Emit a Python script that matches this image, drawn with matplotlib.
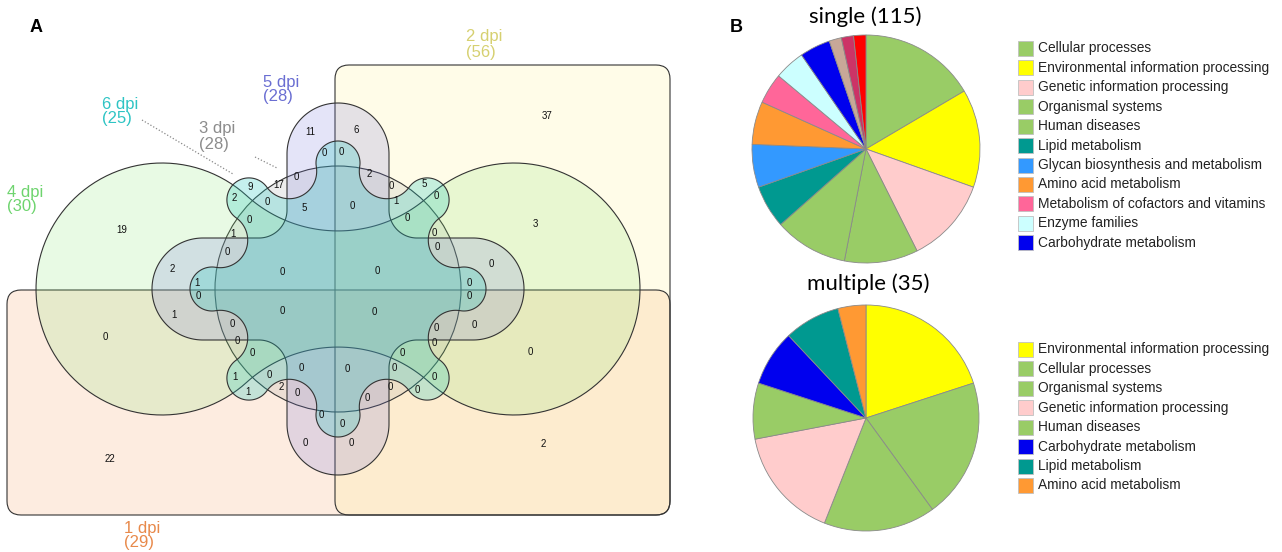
import numpy as np
import matplotlib.pyplot as plt
from matplotlib.patches import Polygon, FancyBboxPatch, Circle, Rectangle

# Venn diagram of proteins detected per day post infection
set_names = ['1 dpi', '2 dpi', '3 dpi', '4 dpi', '5 dpi', '6 dpi']
set_sizes = [29, 56, 28, 30, 28, 25]
set_colors = ['#F5A064', '#FFF08C', '#A8A8A8', '#8CE678', '#7878DC', '#20C8C0']
set_alpha = [0.2, 0.2, 0.2, 0.2, 0.2, 0.26]
label_colors = ['#E8894A', '#D6D070', '#8C8C8C', '#6ED46E', '#6A6ED2', '#2EC4C4']

region_counts = [37, 19, 3, 0, 0, 22, 2, 11, 6, 0, 0, 0, 17, 9, 2, 0, 5, 2, 0, 5,
                 0, 1, 0, 0, 0, 1, 0, 0, 0, 2, 1, 0, 1, 0, 0, 0, 0, 0, 0, 0,
                 0, 0, 0, 0, 0, 0, 0, 1, 0, 0, 0, 0, 0, 1, 2, 0, 0, 0, 0, 0,
                 0, 0, 0]
region_xy = [(547, 116), (122, 230), (535, 224), (105, 337), (530, 352), (110, 459),
             (543, 444), (310, 132), (356, 130), (324, 153), (341, 152), (296, 177),
             (279, 185), (250, 187), (234, 198), (267, 202), (304, 208), (369, 174),
             (391, 186), (424, 184), (436, 196), (396, 201), (352, 206), (407, 218),
             (249, 220), (233, 234), (227, 252), (434, 233), (437, 247), (172, 269),
             (197, 283), (198, 296), (174, 315), (282, 272), (377, 271), (282, 311),
             (374, 312), (491, 264), (469, 283), (469, 296), (474, 325), (232, 324),
             (237, 341), (252, 353), (436, 328), (434, 343), (402, 353), (235, 377),
             (269, 375), (301, 368), (347, 369), (394, 368), (434, 377), (248, 392),
             (281, 387), (297, 393), (390, 387), (417, 390), (367, 398), (321, 415),
             (342, 424), (305, 443), (351, 443)]
set_label_xy = [(124, 528), (466, 37), (199, 129), (7, 192), (263, 82), (102, 104)]

# KEGG categories
single_values = [19, 16, 14, 12, 12, 7, 7, 7, 5, 5, 5, 2, 2, 2]
single_colors = ['#99CC66', '#FFFF00', '#FFCCCC', '#99CC66', '#99CC66', '#009990',
                 '#3399FF', '#FF9933', '#FF6699', '#CCFFFF', '#0000EE',
                 '#C8A898', '#CC3366', '#FF0000']
single_names = ['Cellular processes', 'Environmental information processing',
                'Genetic information processing', 'Organismal systems',
                'Human diseases', 'Lipid metabolism',
                'Glycan biosynthesis and metabolism', 'Amino acid metabolism',
                'Metabolism of cofactors and vitamins', 'Enzyme families',
                'Carbohydrate metabolism']

multi_values = [5, 5, 4, 4, 2, 2, 2, 1]
multi_colors = ['#FFFF00', '#99CC66', '#99CC66', '#FFCCCC', '#99CC66', '#0000EE',
                '#009990', '#FF9933']
multi_names = ['Environmental information processing', 'Cellular processes',
               'Organismal systems', 'Genetic information processing',
               'Human diseases', 'Carbohydrate metabolism', 'Lipid metabolism',
               'Amino acid metabolism']

plt.rcParams['font.family'] = ['Liberation Sans', 'DejaVu Sans']

fig = plt.figure(figsize=(12.82, 5.52), dpi=100)
ax = fig.add_axes([0, 0, 1, 1])

cx, cy = 338, 289
EDGE = dict(edgecolor='#333333', linewidth=0.8)


def arc(x0, y0, r, a0, a1, n=90):
    t = np.radians(np.linspace(a0, a1, n))
    return np.column_stack([x0 + r * np.cos(t), y0 + r * np.sin(t)])


def ang(v):
    return np.degrees(np.arctan2(v[1], v[0]))


def dumbbell(D, R1, R2):
    # two lobes joined by concave waists, tangent arcs
    H = np.sqrt((R1 + R2) ** 2 - D ** 2)
    a = np.degrees(np.arctan2(H, D))
    return np.vstack([
        arc(cx - D, cy, R1, -a, a - 360),
        arc(cx, cy + H, R2, -180 + a, -a),
        arc(cx + D, cy, R1, 180 - a, -180 + a),
        arc(cx, cy - H, R2, a, 180 - a),
    ])


def cross(w, tip, f):
    # four rounded arms with filleted inner corners
    c = np.array([cx, cy], float)
    dirs = [np.array(v, float) for v in [(1, 0), (0, 1), (-1, 0), (0, -1)]]
    out = []
    for k, d in enumerate(dirs):
        p, n = dirs[k - 1], dirs[(k + 1) % 4]
        ad = ang(d)
        out.append(np.array([c + (w + f) * d + w * p, c + (tip - w) * d + w * p]))
        out.append(arc(*(c + (tip - w) * d), w, ad - 90, ad + 90))
        out.append(np.array([c + (tip - w) * d + w * n, c + (w + f) * d + w * n]))
        out.append(arc(*(c + (w + f) * d + (w + f) * n), f, ad + 270, ad + 180))
    return np.vstack(out)


def flower(rl, rho, r_in, nlobe=8):
    # round lobes joined by round dips
    c = np.array([cx, cy], float)
    step = 360 / nlobe
    al = np.radians(step / 2)
    s = (rl ** 2 + r_in ** 2 - 2 * rl * r_in * np.cos(al) - rho ** 2) / \
        (2 * (rho - r_in + rl * np.cos(al)))
    rd = r_in + s

    def pol(r, a):
        return c + r * np.array([np.cos(np.radians(a)), np.sin(np.radians(a))])

    out = []
    for k in range(nlobe):
        th = k * step - 90
        phi = th + step / 2
        L, L2 = pol(rl, th), pol(rl, th + step)
        Dp, Dn = pol(rd, th - step / 2), pol(rd, phi)
        a0 = th - ((th - ang(Dp - L)) % 360)
        a1 = th + ((ang(Dn - L) - th) % 360)
        b0 = phi - ((phi - ang(L - Dn)) % 360)
        b1 = phi - ((phi - ang(L2 - Dn)) % 360)
        out.append(arc(*L, rho, a0, a1))
        out.append(arc(*Dn, s, b0, b1))
    return np.vstack(out)


# sets 1 and 2: rounded halves
halves = [((7, 290), 663, 225), ((335, 65), 335, 450)]
for (xy, w, h), col, al in zip(halves, set_colors[:2], set_alpha[:2]):
    ax.add_patch(FancyBboxPatch(xy, w, h, boxstyle='round,pad=0,rounding_size=14',
                                facecolor=col, alpha=al, edgecolor='none'))
for xy, w, h in halves:
    ax.add_patch(FancyBboxPatch(xy, w, h, boxstyle='round,pad=0,rounding_size=14',
                                facecolor='none', **EDGE))

# set 3: circle
ax.add_patch(Circle((cx, cy), 123, facecolor=set_colors[2], alpha=set_alpha[2],
                    edgecolor='none'))
ax.add_patch(Circle((cx, cy), 123, facecolor='none', **EDGE))

# sets 4-6
shapes = [dumbbell(176, 126, 136), cross(51, 186, 28), flower(126, 22, 100)]
for pts, col, al in zip(shapes, set_colors[3:], set_alpha[3:]):
    ax.add_patch(Polygon(pts, closed=True, facecolor=col, alpha=al, edgecolor='none'))
    ax.add_patch(Polygon(pts, closed=True, facecolor='none', **EDGE))

for n, (x, y) in zip(region_counts, region_xy):
    ax.text(x, y, str(n), ha='center', va='center', fontsize=7, color='#111111')

for name, size, (x, y), col in zip(set_names, set_sizes, set_label_xy, label_colors):
    ax.text(x, y, name, ha='left', va='center', fontsize=12, color=col)
    ax.text(x, y + 15, '(%d)' % size, ha='left', va='center', fontsize=12, color=col)

ax.plot([142, 233], [120, 174], color='#888888', lw=0.9, ls=(0, (1, 1.6)))
ax.plot([255, 277], [157, 168], color='#888888', lw=0.9, ls=(0, (1, 1.6)))

# pies: y axis points down, so counterclock=True runs clockwise on screen
wp = dict(edgecolor='#8a8a8a', linewidth=0.6)
ax.pie(single_values, colors=single_colors, startangle=270, counterclock=True,
       center=(866, 149), radius=114, wedgeprops=wp)
ax.pie(multi_values, colors=multi_colors, startangle=270, counterclock=True,
       center=(866, 418), radius=113, wedgeprops=wp)

ax.text(865, 17, 'single (115)', ha='center', va='center', fontsize=16, family='Lato')
ax.text(868, 284, 'multiple (35)', ha='center', va='center', fontsize=16, family='Lato')

for y0, names, cols in [(48.3, single_names, single_colors), (349.3, multi_names, multi_colors)]:
    for i, name in enumerate(names):
        y = y0 + i * 19.45
        ax.add_patch(Rectangle((1018, y - 7.5), 15, 15, facecolor=cols[i],
                               edgecolor='#c0c0c0', linewidth=0.6))
        ax.text(1038, y, name, ha='left', va='center', fontsize=9.9, color='#222222')

ax.text(36, 28, 'A', ha='center', va='center', fontsize=13, fontweight='bold')
ax.text(736, 28, 'B', ha='center', va='center', fontsize=13, fontweight='bold')

ax.set_xlim(0, 1282)
ax.set_ylim(552, 0)
ax.set_aspect('equal')
ax.axis('off')
fig.savefig('out.png', dpi=100)
